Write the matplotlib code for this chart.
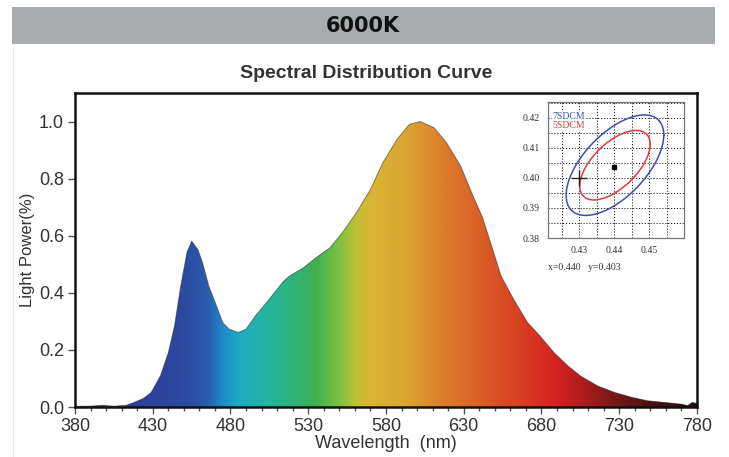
import numpy as np
import matplotlib
matplotlib.use("Agg")
import matplotlib.pyplot as plt
from matplotlib.colors import LinearSegmentedColormap
from matplotlib.ticker import MultipleLocator, FormatStrFormatter

# ---------------- data ----------------
wavelength = [380, 390, 398, 405, 413, 418, 424, 429, 435, 440, 444, 448, 452, 455,
              459, 462, 466, 471, 475, 479, 485, 490, 496, 505, 514, 518, 527, 535,
              544, 552, 561, 570, 578, 587, 595, 602, 611, 619, 628, 636, 642, 647,
              654, 662, 671, 679, 688, 697, 705, 716, 727, 738, 748, 759, 770, 774,
              777, 780]
power = [0.002, 0.003, 0.006, 0.003, 0.006, 0.016, 0.030, 0.051, 0.110, 0.190, 0.284,
         0.424, 0.541, 0.581, 0.552, 0.506, 0.424, 0.354, 0.296, 0.273, 0.261, 0.273,
         0.319, 0.378, 0.440, 0.459, 0.488, 0.523, 0.558, 0.611, 0.681, 0.762, 0.856,
         0.937, 0.990, 1.000, 0.978, 0.925, 0.844, 0.739, 0.665, 0.580, 0.459, 0.378,
         0.296, 0.249, 0.191, 0.144, 0.109, 0.074, 0.051, 0.034, 0.022, 0.016, 0.010,
         0.005, 0.016, 0.012]

x_ticks = [380, 430, 480, 530, 580, 630, 680, 730, 780]
y_ticks = [0.0, 0.2, 0.4, 0.6, 0.8, 1.0]

# spectrum colour anchors (wavelength, colour)
color_wl = [380, 420, 450, 465, 475, 485, 500, 520, 535, 550, 560, 570, 590, 605,
            620, 645, 670, 690, 710, 730, 760, 780]
color_hex = ["#3a3a9a", "#2e3f9c", "#2a4aa0", "#2a5cb0", "#1d8ec8", "#1fa9c0",
             "#22b3a5", "#2db37a", "#3fb04e", "#7dc142", "#bcc235", "#d9b532",
             "#daa832", "#dc922e", "#dc782a", "#da5a25", "#d83a22", "#d42222",
             "#a81c1c", "#701818", "#3e1010", "#2a0c0c"]

# chromaticity inset
sdcm_labels = ["7SDCM", "5SDCM"]
sdcm_colors = ["#3b4fb0", "#e03a3a"]
sdcm_cx = [0.4402, 0.4402]
sdcm_cy = [0.4042, 0.4042]
sdcm_sx = [0.0140, 0.0101]
sdcm_sy = [0.0167, 0.01155]
sdcm_r = 0.6
point_x, point_y = 0.440, 0.4035
target_x, target_y = 0.430, 0.400
inset_xticks = [0.43, 0.44, 0.45]
inset_yticks = [0.38, 0.39, 0.40, 0.41, 0.42]

# ---------------- figure ----------------
W, H = 729, 457
fig = plt.figure(figsize=(W / 100, H / 100), dpi=100)
fig.patch.set_facecolor("white")

def fx(px):
    return px / W

def fy(py):
    return 1 - py / H

# header bar
fig.patches.append(plt.Rectangle((fx(12), fy(44)), fx(715) - fx(12), fy(6.5) - fy(44),
                                 transform=fig.transFigure, facecolor="#a9acae",
                                 edgecolor="none", zorder=0))
fig.text(fx(363), fy(26), "6000K", ha="center", va="center", fontsize=15,
         fontweight="bold", family="DejaVu Sans", color="#111111")
# faint left border line
fig.add_artist(plt.Line2D([fx(13), fx(13)], [fy(48), fy(457)], transform=fig.transFigure,
                          color="#e2e2e2", lw=1))

# main axes
ax = fig.add_axes([fx(75), fy(407), fx(697) - fx(75), fy(93) - fy(407)])
ax.set_xlim(380, 780)
ax.set_ylim(0, 1.1)

cmap = LinearSegmentedColormap.from_list(
    "spec", [((w - 380) / 400, c) for w, c in zip(color_wl, color_hex)])
grad = np.linspace(0, 1, 800).reshape(1, -1)
im = ax.imshow(grad, cmap=cmap, extent=[380, 780, 0, 1.1], aspect="auto",
               origin="lower", zorder=1, interpolation="bilinear")
poly = ax.fill_between(wavelength, 0, power, facecolor="none", edgecolor="none")
clip = poly.get_paths()[0]
im.set_clip_path(clip, transform=ax.transData)
ax.plot(wavelength, power, color="#222222", lw=0.7, alpha=0.5, zorder=2)

for s in ax.spines.values():
    s.set_linewidth(1.8)
    s.set_color("#111111")
ax.set_xticks(x_ticks)
ax.set_yticks(y_ticks)
ax.xaxis.set_minor_locator(MultipleLocator(10))
ax.yaxis.set_major_formatter(FormatStrFormatter("%.1f"))
ax.tick_params(axis="both", which="major", direction="out", length=5, width=1,
               color="#555555", labelsize=13, labelcolor="#333333")
ax.tick_params(axis="x", which="major", pad=3)
ax.tick_params(axis="y", which="major", pad=3)
ax.tick_params(axis="x", which="minor", direction="out", length=3, width=1,
               color="#555555")
for lab in ax.get_xticklabels() + ax.get_yticklabels():
    lab.set_family("Liberation Sans")
ax.set_xlabel("Wavelength  (nm)", fontsize=13, family="Liberation Sans",
              color="#333333", labelpad=0)
ax.set_ylabel("Light Power(%)", fontsize=12, family="Liberation Sans",
              color="#333333", labelpad=3)
fig.text(fx(366), fy(74), "Spectral Distribution Curve", ha="center", va="center",
         fontsize=14, fontweight="bold", family="Liberation Sans", color="#333333")

# inset axes
ia = fig.add_axes([fx(548), fy(238), fx(684) - fx(548), fy(102) - fy(238)])
ia.set_facecolor("white")
ia.set_xlim(0.421, 0.460)
ia.set_ylim(0.38, 0.4252)
ia.set_xticks(inset_xticks)
ia.set_yticks(inset_yticks)
ia.set_xticks(np.arange(0.425, 0.4601, 0.005), minor=True)
ia.set_yticks(np.arange(0.385, 0.4251, 0.005), minor=True)
ia.grid(True, which="both", color="#222222", linestyle=(0, (1.2, 1.8)), lw=0.7)
ia.tick_params(which="both", length=0, labelsize=7, labelcolor="#333333", pad=6)
ia.xaxis.set_major_formatter(FormatStrFormatter("%.2f"))
ia.yaxis.set_major_formatter(FormatStrFormatter("%.2f"))
for lab in ia.get_xticklabels() + ia.get_yticklabels():
    lab.set_family("Liberation Serif")
for s in ia.spines.values():
    s.set_color("#777777")
    s.set_linewidth(0.9)

t = np.linspace(0, 2 * np.pi, 300)
for lab, col, cx, cy, sx, sy in zip(sdcm_labels, sdcm_colors, sdcm_cx, sdcm_cy,
                                    sdcm_sx, sdcm_sy):
    ex = cx + sx * np.cos(t)
    ey = cy + sy * (sdcm_r * np.cos(t) + np.sqrt(1 - sdcm_r ** 2) * np.sin(t))
    ia.plot(ex, ey, color=col, lw=1.1, zorder=3)
ia.text(0.4222, 0.4203, sdcm_labels[0], color=sdcm_colors[0], fontsize=7,
        family="Liberation Serif", va="center", ha="left", zorder=4,
        bbox=dict(facecolor="white", edgecolor="none", pad=0.2))
ia.text(0.4222, 0.4173, sdcm_labels[1], color=sdcm_colors[1], fontsize=7,
        family="Liberation Serif", va="center", ha="left", zorder=4,
        bbox=dict(facecolor="white", edgecolor="none", pad=0.2))
ia.plot([point_x], [point_y], marker="s", markersize=3, color="black", zorder=5)
ia.plot([target_x], [target_y], marker="+", markersize=12, mew=1.0, color="#222222",
        zorder=5)
fig.text(fx(548), fy(267), "x=0.440   y=0.403", fontsize=7, family="Liberation Serif",
         color="#333333", va="center", ha="left")

fig.savefig("out.png", dpi=100, facecolor="white")
